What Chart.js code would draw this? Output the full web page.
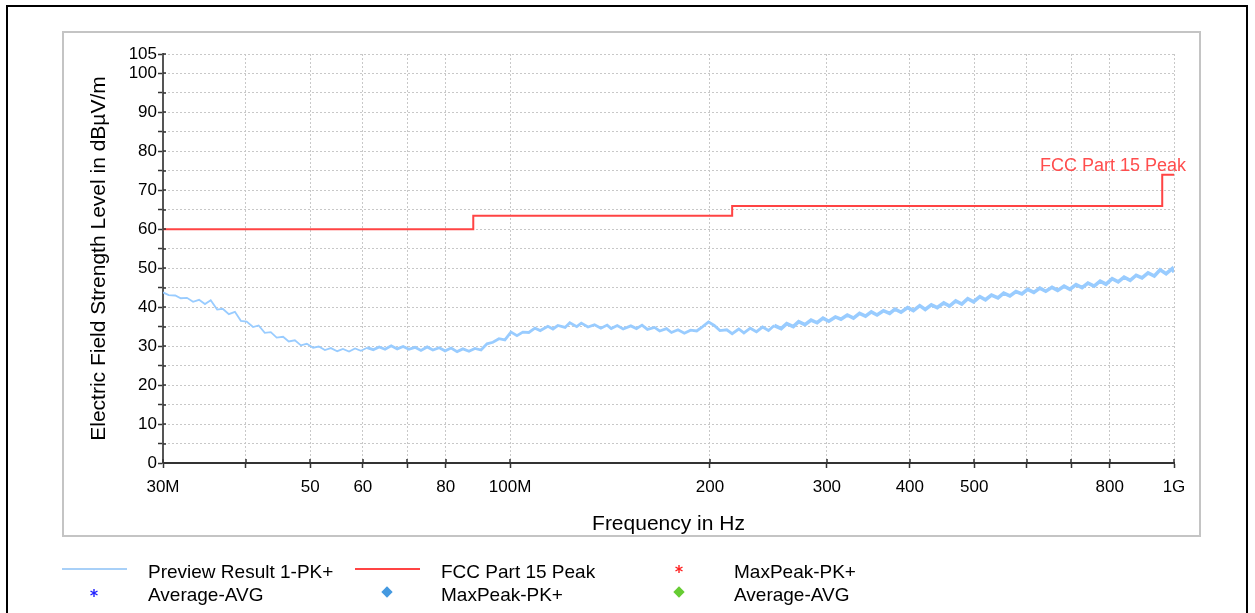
<!DOCTYPE html>
<html><head><meta charset="utf-8">
<script src="https://cdn.jsdelivr.net/npm/chart.js@4.4.1/dist/chart.umd.min.js"></script>
<style>
html,body{margin:0;padding:0;background:#fff;width:1255px;height:613px;overflow:hidden;font-family:"Liberation Sans",Arial,sans-serif;}
#outer{position:absolute;left:6px;top:5px;width:1242px;height:640px;border:2px solid #000;box-sizing:border-box;}
#box{position:absolute;left:62px;top:31px;width:1139px;height:506px;border:2px solid #c4c4c4;box-sizing:border-box;}
#c{position:absolute;left:0;top:0;}
.lg{position:absolute;font-size:19px;line-height:19px;color:#000;white-space:nowrap;}
.ln{position:absolute;height:2px;}
.dia{position:absolute;width:8px;height:8px;transform:rotate(45deg);}
svg.ast{position:absolute;}
</style>
</head><body>
<div id="outer"></div>
<div id="box"></div>
<canvas id="c" width="1255" height="613"></canvas>
<div id="legend"></div>
<script>
// ---- data ----
const freqMHz = [30,30.6,31.3,31.9,32.6,33.3,34,34.7,35.4,36.2,
 36.9,37.7,38.5,39.3,40.1,41,41.8,42.7,43.6,44.5,
 45.5,46.4,47.4,48.4,49.4,50.5,51.5,52.6,53.7,54.9,
 56,57.2,58.4,59.6,60.9,62.2,63.5,64.8,66.2,67.6,
 69,70.4,71.9,73.4,75,76.5,78.2,79.8,81.5,83.2,
 84.9,86.7,88.5,90.4,92.3,94.2,96.2,98.2,100.3,102.4,
 104.5,106.7,109,111,114,116,118,121,123,126,
 128,131,134,137,140,142,145,148,152,155,
 158,161,165,168,172,175,179,183,187,191,
 195,199,203,207,212,216,221,225,230,235,
 240,245,250,256,261,267,272,278,284,290,
 296,302,309,315,322,329,336,343,350,357,
 365,373,380,388,397,405,414,422,431,440,
 450,459,469,479,489,499,510,520,531,543,
 554,566,578,590,602,615,628,641,655,668,
 683,697,712,727,742,758,774,790,807,824,
 841,859,877,895,914,934,953,973,994,1000];
const previewPk = [43.8,43.1,43.0,42.3,42.4,41.4,41.9,40.8,41.8,39.4,
 39.6,38.2,38.8,36.5,36.3,34.9,35.3,33.4,33.6,32.2,
 32.4,31.2,31.5,30.2,30.6,29.6,29.9,29.0,29.5,28.7,
 29.3,28.6,29.4,28.8,29.6,29.1,29.8,29.2,30.1,29.3,
 29.9,29.2,29.7,28.9,29.8,29.0,29.6,28.8,29.5,28.6,
 29.3,28.7,29.4,29.0,30.6,31.0,31.9,31.6,33.6,32.7,
 33.6,33.5,34.6,34.0,35.1,34.4,35.3,34.8,36.0,35.0,
 35.9,34.9,35.5,34.6,35.4,34.5,35.3,34.4,35.2,34.5,
 35.4,34.3,34.8,33.9,34.5,33.5,34.2,33.3,34.1,33.9,
 35.0,36.2,35.3,34.0,34.2,33.2,34.4,33.4,34.6,33.7,
 34.9,34.0,35.3,34.5,35.8,35.0,36.3,35.5,36.7,36.0,
 37.2,36.4,37.5,36.9,38.0,37.2,38.4,37.7,38.8,38.0,
 39.1,38.4,39.5,38.7,39.9,39.1,40.4,39.4,40.6,39.9,
 41.1,40.3,41.6,40.8,42.2,41.4,42.7,41.9,43.1,42.4,
 43.6,42.9,44.0,43.4,44.6,43.8,44.9,44.1,45.1,44.3,
 45.4,44.6,45.8,45.0,46.2,45.4,46.7,45.9,47.3,46.5,
 47.7,46.9,48.2,47.5,48.8,48.0,49.6,48.6,49.9,49.0];
const limitFreq = [30,88,88,216,216,960,960,1000];
const limitDb   = [60,60,63.5,63.5,66,66,74,74];
const xTickVals = [30,40,50,60,70,80,100,200,300,400,500,600,700,800,1000];
const xTickText = ['30M','','50','60','','80','100M','200','300','400','500','','','800','1G'];
const yTickVals = [0,5,10,15,20,25,30,35,40,45,50,55,60,65,70,75,80,85,90,95,100,105];
const yTickText = ['0','','10','','20','','30','','40','','50','','60','','70','','80','','90','','100','105'];
const seriesNames = ['Preview Result 1-PK+','FCC Part 15 Peak','MaxPeak-PK+','Average-AVG','MaxPeak-PK+','Average-AVG'];
const xTitle = 'Frequency in Hz';
const yTitle = 'Electric Field Strength Level in dBµV/m';

const FONT = '"Liberation Sans", Arial, sans-serif';
const fccLabel = {
  id:'fccLabel',
  afterDatasetsDraw(c){
    const {ctx, scales:{x,y}} = c;
    ctx.save();
    ctx.font = '18px ' + FONT;
    ctx.fillStyle = '#ff4d4d';
    ctx.textAlign = 'right';
    ctx.textBaseline = 'alphabetic';
    ctx.fillText(seriesNames[1], x.getPixelForValue(limitFreq[limitFreq.length-1]) + 12, y.getPixelForValue(limitDb[limitDb.length-1]) - 4);
    ctx.restore();
  }
};
// tick marks crossing into the plot area (as in the reference)
const innerTicks = {
  id:'innerTicks',
  afterDraw(c){
    const {ctx, scales:{x,y}, chartArea:a} = c;
    ctx.save();
    ctx.strokeStyle = '#333'; ctx.lineWidth = 1.5;
    ctx.beginPath();
    x.ticks.forEach(t=>{const px = Math.round(x.getPixelForValue(t.value)); ctx.moveTo(px, a.bottom); ctx.lineTo(px, a.bottom-4);});
    y.ticks.forEach(t=>{const py = Math.round(y.getPixelForValue(t.value)); ctx.moveTo(a.left, py); ctx.lineTo(a.left+3, py);});
    ctx.stroke();
    ctx.restore();
  }
};

new Chart(document.getElementById('c'), {
  type:'line',
  data:{datasets:[
    {label:seriesNames[0], data:freqMHz.map((f,i)=>({x:f,y:previewPk[i]})), borderColor:'#99ccff', borderWidth:2.6, pointRadius:0, tension:0,
      segment:{borderWidth:ctx=>{const f = ctx.p0.parsed.x; return f < 60 ? 1.8 : (f < 250 ? 2.8 : 3.6);}}},
    {label:seriesNames[1], data:limitFreq.map((f,i)=>({x:f,y:limitDb[i]})), borderColor:'#ff4444', borderWidth:2, pointRadius:0, tension:0}
  ]},
  options:{
    responsive:false, animation:false, devicePixelRatio:1,
    layout:{padding:{left:63,right:81,top:54,bottom:75}},
    plugins:{legend:{display:false}, tooltip:{enabled:false}},
    scales:{
      x:{type:'logarithmic', min:30, max:1000,
        afterBuildTicks:s=>{s.ticks = xTickVals.map(v=>({value:v}));},
        afterFit:s=>{s.height = 75;},
        ticks:{autoSkip:false, maxRotation:0, minRotation:0, padding:9, color:'#000', font:{size:17, family:FONT},
          callback:(v)=>{const i = xTickVals.indexOf(v); return i<0 ? '' : xTickText[i];}},
        grid:{color:'#c8c8c8', lineWidth:1, tickColor:'#333', tickLength:5, tickWidth:1.5},
        border:{display:true, color:'#333', width:2, dash:[2,2]},
        title:{display:true, text:xTitle, color:'#000', font:{size:21, family:FONT}, padding:{top:0,bottom:1}}
      },
      y:{min:0, max:105,
        afterBuildTicks:s=>{s.ticks = yTickVals.map(v=>({value:v}));},
        afterFit:s=>{s.width = 100;},
        ticks:{autoSkip:false, padding:1, color:'#000', font:{size:17, family:FONT},
          callback:(v)=>{const i = yTickVals.indexOf(v); return i<0 ? '' : yTickText[i];}},
        grid:{color:'#c8c8c8', lineWidth:1, tickColor:'#333', tickLength:5, tickWidth:1.5},
        border:{display:true, color:'#555', width:2, dash:[2,2]},
        title:{display:true, text:yTitle, color:'#000', font:{size:21, family:FONT}, padding:{top:24,bottom:0}}
      }
    }
  },
  plugins:[fccLabel, innerTicks]
});

// ---- legend (HTML) ----
(function(){
  const L = document.getElementById('legend');
  const add = (html)=>{L.insertAdjacentHTML('beforeend', html);};
  const ast = (cx,cy,col)=>`<svg class="ast" style="left:${cx-5}px;top:${cy-5}px" width="10" height="10" viewBox="0 0 10 10"><g stroke="${col}" stroke-width="1.4"><line x1="5" y1="1" x2="5" y2="9"/><line x1="1.5" y1="3" x2="8.5" y2="7"/><line x1="1.5" y1="7" x2="8.5" y2="3"/></g></svg>`;
  const rows = [562, 585];
  // row 1
  add(`<div class="ln" style="left:62px;top:568px;width:65px;background:#a8d0f8"></div>`);
  add(`<div class="lg" style="left:148px;top:${rows[0]}px">${seriesNames[0]}</div>`);
  add(`<div class="ln" style="left:355px;top:568px;width:65px;background:#ff4444"></div>`);
  add(`<div class="lg" style="left:441px;top:${rows[0]}px">${seriesNames[1]}</div>`);
  add(ast(679,569,'#ff2020'));
  add(`<div class="lg" style="left:734px;top:${rows[0]}px">${seriesNames[2]}</div>`);
  // row 2
  add(ast(94,593,'#2020ff'));
  add(`<div class="lg" style="left:148px;top:${rows[1]}px">${seriesNames[3]}</div>`);
  add(`<div class="dia" style="left:383px;top:588px;background:#4499e0"></div>`);
  add(`<div class="lg" style="left:441px;top:${rows[1]}px">${seriesNames[4]}</div>`);
  add(`<div class="dia" style="left:675px;top:588px;background:#66cc33"></div>`);
  add(`<div class="lg" style="left:734px;top:${rows[1]}px">${seriesNames[5]}</div>`);
})();
</script>
</body></html>
